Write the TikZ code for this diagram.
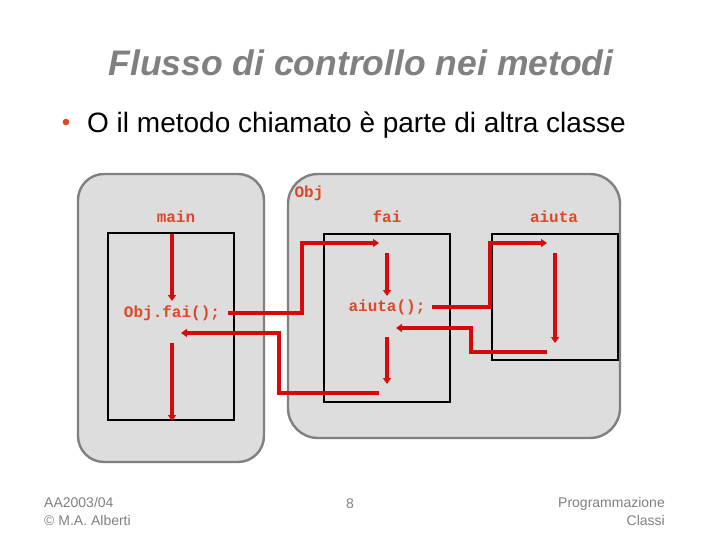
\documentclass[tikz,border=0pt]{standalone}
\usepackage{fontspec}
\setmainfont{Liberation Sans}
\newfontfamily\codefont{Liberation Mono}
\usetikzlibrary{arrows.meta}
\definecolor{titlegray}{RGB}{128,128,128}
\definecolor{boxfill}{RGB}{221,221,221}
\definecolor{boxline}{RGB}{128,128,128}
\definecolor{flowred}{RGB}{215,10,10}
\definecolor{codered}{RGB}{222,72,40}
\definecolor{bulletred}{RGB}{230,70,30}
\tikzset{
  objbox/.style={draw=boxline, line width=2.4pt, fill=boxfill},
  methbox/.style={draw=black, line width=2.2pt},
  flow/.style={draw=flowred, line width=3.6pt, -{Triangle[length=6pt,width=8pt]}},
  code/.style={text=codered, font=\codefont\bfseries\fontsize{16}{18}\selectfont, inner sep=0pt},
  foot/.style={text=titlegray, font=\fontsize{14}{18}\selectfont, inner sep=0pt, align=left}
}
\begin{document}
\begin{tikzpicture}[x=1pt,y=-1pt]
\useasboundingbox (0,0) rectangle (720,540);
% title
\node[text=titlegray, font=\bfseries\itshape\fontsize{35.5}{40}\selectfont, inner sep=0pt] (title) at (361,63) {Flusso di controllo nei metodi};
\node[text=bulletred, font=\fontsize{24}{26}\selectfont, inner sep=0pt] (bul) at (66,125) {•};
\node[anchor=west, font=\fontsize{28}{32}\selectfont, inner sep=0pt] (sub) at (87,125) {O il metodo chiamato è parte di altra classe};
% object boxes
\draw[objbox, rounded corners=26pt] (78,174) rectangle (264,462);
\draw[objbox, rounded corners=30pt] (288,174) rectangle (620,438);
% method boxes
\draw[methbox] (108,233) rectangle (234,420);
\draw[methbox] (324,234) rectangle (450,402);
\draw[methbox] (492,234) rectangle (618,360);
% labels
\node[code] (lmain) at (176,217) {main};
\node[code] (lobj) at (309,193) {Obj};
\node[code] (lfai) at (387,217) {fai};
\node[code] (laiuta) at (554,217) {aiuta};
\node[code] (call1) at (172,313) {Obj.fai();};
\node[code] (call2) at (387,307) {aiuta();};
% coordinates
\coordinate (m1) at (172,234);
\coordinate (m2) at (172,301);
\coordinate (m3) at (172,343);
\coordinate (m4) at (172,421);
\coordinate (c1s) at (228,313);
\coordinate (c1e) at (379,243);
\coordinate (f1) at (387,253);
\coordinate (f2) at (387,296);
\coordinate (c2s) at (432,307);
\coordinate (c2e) at (547,243);
\coordinate (a1) at (555,253);
\coordinate (a2) at (555,343);
\coordinate (r2s) at (547,352);
\coordinate (r2e) at (396,328);
\coordinate (f3) at (387,337);
\coordinate (f4) at (387,384);
\coordinate (r1s) at (379,393);
\coordinate (r1e) at (181,333);
% flows
\draw[flow] (m1) -- (m2);
\draw[flow] (m3) -- (m4);
\draw[flow] (c1s) -- (302,313) -- (302,243) -- (c1e);
\draw[flow] (f1) -- (f2);
\draw[flow] (c2s) -- (490,307) -- (490,243) -- (c2e);
\draw[flow] (a1) -- (a2);
\draw[flow] (r2s) -- (471,352) -- (471,328) -- (r2e);
\draw[flow] (f3) -- (f4);
\draw[flow] (r1s) -- (279,393) -- (279,333) -- (r1e);
% footer
\node[foot, anchor=north west] (f-left) at (44,497) {AA2003/04\\© M.A. Alberti};
\node[foot] (f-mid) at (350,504) {8};
\node[foot, anchor=north east, align=right] (f-right) at (665,497) {Programmazione\\Classi};
\end{tikzpicture}
\end{document}
